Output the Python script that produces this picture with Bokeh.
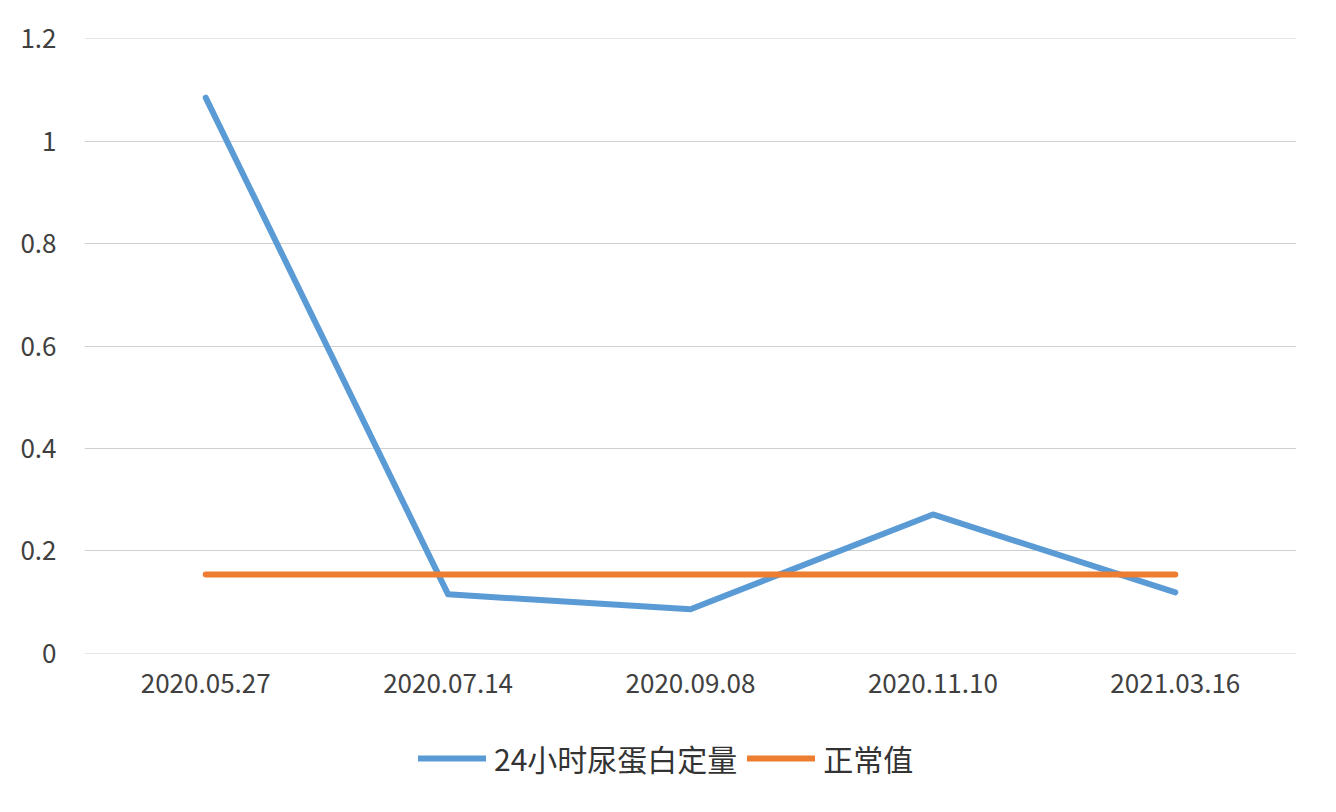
from bokeh.plotting import figure
from bokeh.layouts import column
from bokeh.models import Legend, LegendItem, FixedTicker, Range1d, FactorRange
from bokeh.embed import file_html
from bokeh.resources import INLINE

dates = ["2020.05.27", "2020.07.14", "2020.09.08", "2020.11.10", "2021.03.16"]
protein = [1.085, 0.115, 0.086, 0.271, 0.119]
normal = [0.154, 0.154, 0.154, 0.154, 0.154]
y_ticks = [0, 0.2, 0.4, 0.6, 0.8, 1.0, 1.2]
y_labels = {0: "0", 0.2: "0.2", 0.4: "0.4", 0.6: "0.6", 0.8: "0.8", 1.0: "1", 1.2: "1.2"}
series_names = ["24小时尿蛋白定量", "正常值"]
series_colors = ["#5B9BD5", "#ED7D31"]

FONT = "Noto Sans CJK SC"

p = figure(frame_width=1212, frame_height=615, x_range=FactorRange(*dates), y_range=Range1d(-0.0005, 1.2005),
           output_backend="svg", toolbar_location=None,
           min_border_left=84, min_border_right=24, min_border_top=38, min_border_bottom=60)
p.x_range.range_padding = 0
p.background_fill_color = "white"
p.border_fill_color = "white"
p.outline_line_color = None

p.line(dates, protein, line_color=series_colors[0], line_width=6, line_join="round", line_cap="round")
p.line(dates, normal, line_color=series_colors[1], line_width=6, line_cap="round")

p.yaxis.ticker = FixedTicker(ticks=y_ticks)
p.yaxis.major_label_overrides = y_labels
for ax in (p.xaxis[0], p.yaxis[0]):
    ax.axis_line_color = None
    ax.major_tick_line_color = None
    ax.minor_tick_line_color = None
    ax.major_label_text_font = FONT
    ax.major_label_text_font_size = "26px"
    ax.major_label_text_color = "#404040"
p.yaxis.major_label_standoff = 22
p.xaxis.major_label_standoff = 14
p.xgrid.grid_line_color = None
p.ygrid.grid_line_color = "#d0d0d0"
p.ygrid.grid_line_width = 1

# legend strip below the chart
lg = figure(width=1320, height=94, x_range=Range1d(0, 1), y_range=Range1d(0, 1),
            output_backend="svg", toolbar_location=None, min_border=0)
lg.axis.visible = False
lg.grid.visible = False
lg.outline_line_color = None
lg.background_fill_color = "white"
lg.border_fill_color = "white"
items = []
for name, col in zip(series_names, series_colors):
    r = lg.line([float("nan")], [float("nan")], line_color=col, line_width=6, line_cap="round")
    items.append(LegendItem(label=name, renderers=[r]))
legend = Legend(items=items, orientation="horizontal", location=(334, 27),
                label_text_font=FONT, label_text_font_size="30px", label_text_color="#333333",
                glyph_width=68, glyph_height=30, label_height=30, label_standoff=8, spacing=10,
                border_line_color=None, background_fill_alpha=0, padding=0, margin=0)
lg.add_layout(legend, "center")

layout = column(p, lg, spacing=0)
open("out.html", "w").write(file_html(layout, INLINE))
